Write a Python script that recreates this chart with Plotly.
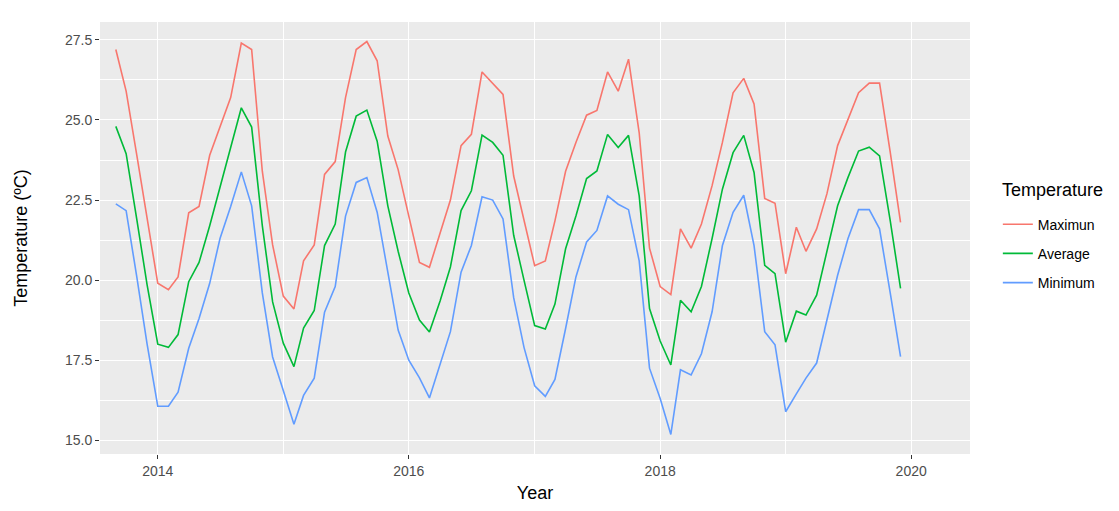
import pandas as pd
import plotly.graph_objects as go

# Monthly readings, September 2013 to December 2019
months = pd.date_range("2013-09-01", "2019-12-01", freq="MS")

maximum = [
    27.2, 25.9, 23.9, 21.9,
    19.9, 19.7, 20.1, 22.1, 22.3, 23.9, 24.8, 25.7, 27.4, 27.2, 23.4, 21.1,
    19.5, 19.1, 20.6, 21.1, 23.3, 23.7, 25.7, 27.2, 27.45, 26.85, 24.5, 23.45,
    22.0, 20.55, 20.4, 21.5, 22.5, 24.2, 24.55, 26.5, 26.15, 25.8, 23.25, 21.9,
    20.45, 20.6, 21.85, 23.4, 24.3, 25.15, 25.3, 26.5, 25.9, 26.9, 24.6, 21.0,
    19.8, 19.55, 21.6, 21.0, 21.75, 22.95, 24.3, 25.85, 26.3, 25.5, 22.55, 22.4,
    20.2, 21.65, 20.9, 21.6, 22.7, 24.2, 25.0, 25.85, 26.15, 26.15, 24.0, 21.8,
]

average = [
    24.8, 23.95, 21.9, 19.85,
    18.0, 17.9, 18.3, 19.95, 20.55, 21.7, 22.9, 24.1, 25.38, 24.78, 21.7, 19.32,
    18.03, 17.3, 18.5, 19.05, 21.08, 21.75, 24.0, 25.12, 25.31, 24.34, 22.32, 20.9,
    19.6, 18.75, 18.38, 19.35, 20.41, 22.17, 22.79, 24.53, 24.3, 23.9, 21.4, 20.0,
    18.58, 18.47, 19.25, 20.98, 22.0, 23.17, 23.41, 24.55, 24.14, 24.52, 22.63, 19.11,
    18.1, 17.35, 19.37, 19.01, 19.8, 21.3, 22.84, 23.98, 24.52, 23.36, 20.46, 20.2,
    18.06, 19.03, 18.91, 19.53, 20.87, 22.32, 23.2, 24.03, 24.15, 23.88, 21.86, 19.74,
]

minimum = [
    22.38, 22.17, 20.1, 18.0,
    16.06, 16.06, 16.5, 17.87, 18.8, 19.9, 21.3, 22.3, 23.38, 22.32, 19.6, 17.6,
    16.55, 15.5, 16.4, 16.94, 19.0, 19.8, 22.0, 23.05, 23.2, 22.12, 20.25, 18.44,
    17.5, 16.95, 16.32, 17.4, 18.39, 20.25, 21.08, 22.6, 22.5, 21.91, 19.45, 17.9,
    16.7, 16.37, 16.9, 18.49, 20.1, 21.19, 21.55, 22.63, 22.37, 22.2, 20.6, 17.25,
    16.3, 15.18, 17.2, 17.04, 17.7, 19.01, 21.08, 22.12, 22.65, 21.08, 18.39, 17.98,
    15.89, 16.45, 16.94, 17.41, 18.8, 20.15, 21.29, 22.2, 22.2, 21.6, 19.6, 17.61,
]

series = [
    ("Maximun", maximum, "#F8766D"),
    ("Average", average, "#00BA38"),
    ("Minimum", minimum, "#619CFF"),
]

FONT = "Liberation Sans, Arial, sans-serif"

fig = go.Figure()
for name, values, color in series:
    fig.add_trace(go.Scatter(
        x=months, y=values, name=name, mode="lines",
        line=dict(color=color, width=1.6),
        legendgroup=name,
    ))

fig.update_layout(
    width=1119, height=511,
    margin=dict(l=100, r=149, t=22, b=55),
    paper_bgcolor="white",
    plot_bgcolor="#EBEBEB",
    font=dict(family=FONT, color="black"),
    showlegend=True,
    legend=dict(
        font=dict(size=14, color="black"),
        x=1.032, xanchor="left", y=0.568, yanchor="top",
        tracegroupgap=8,
        bgcolor="rgba(0,0,0,0)",
    ),
    annotations=[dict(
        text="Temperature", x=1.0345, y=0.61, xref="paper", yref="paper",
        xanchor="left", yanchor="middle", showarrow=False,
        font=dict(size=18, color="black"),
    )],
)

fig.update_xaxes(
    type="date",
    range=["2013-07-17", "2020-06-20"],
    dtick="M24", tick0="2014-01-01", tickformat="%Y",
    showgrid=True, gridcolor="white", gridwidth=1.2,
    minor=dict(dtick="M12", showgrid=True, gridcolor="white", gridwidth=0.5),
    ticks="outside", ticklen=4, tickcolor="#333333", tickwidth=1,
    tickfont=dict(size=14, color="#4D4D4D"),
    title=dict(text="Year", font=dict(size=18, color="black"), standoff=8),
    zeroline=False, showline=False,
)

fig.update_yaxes(
    range=[14.57, 28.06],
    dtick=2.5, tick0=15, tickformat=".1f",
    showgrid=True, gridcolor="white", gridwidth=1.2,
    minor=dict(dtick=1.25, showgrid=True, gridcolor="white", gridwidth=0.5),
    ticks="outside", ticklen=4, tickcolor="#333333", tickwidth=1,
    tickfont=dict(size=14, color="#4D4D4D"),
    title=dict(text="Temperature (ºC)", font=dict(size=18, color="black"), standoff=32),
    zeroline=False, showline=False,
)

fig.write_html("out.html")
